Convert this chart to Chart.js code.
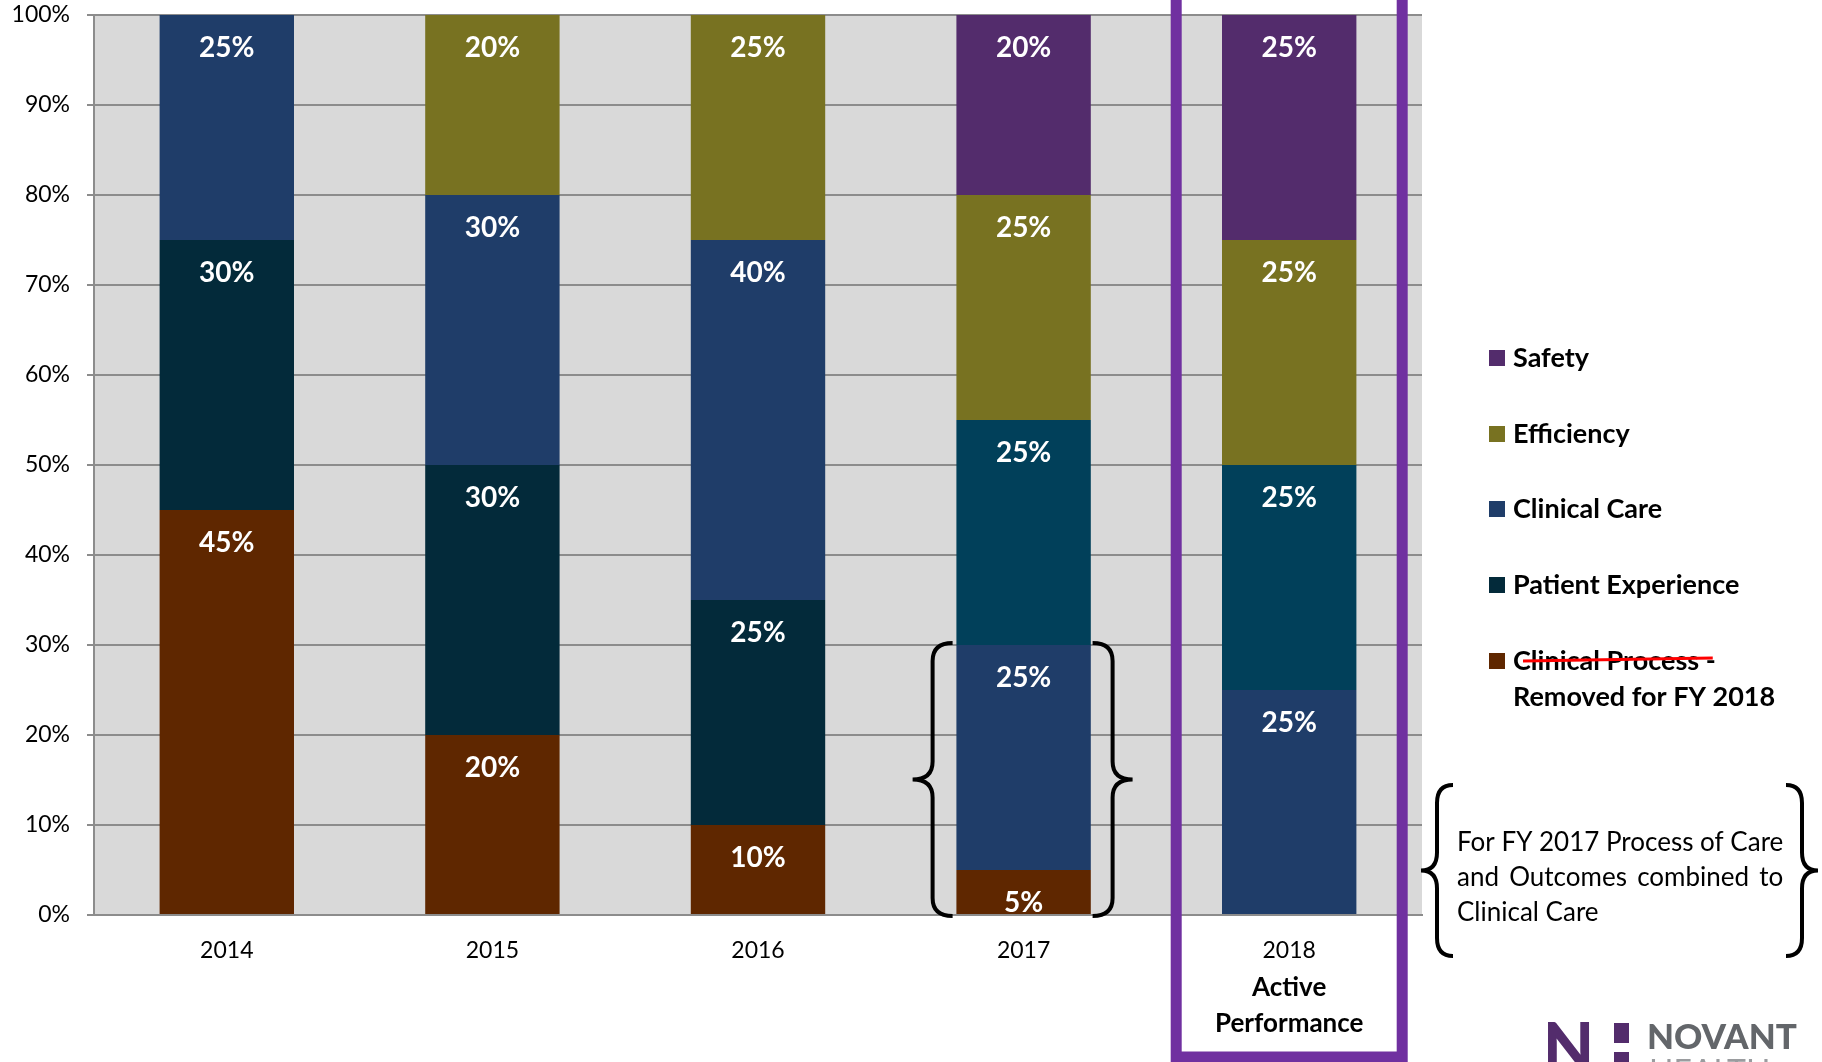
<!DOCTYPE html>
<html>
<head>
<meta charset="utf-8">
<script src="https://cdn.jsdelivr.net/npm/chart.js@4"></script>
<style>
  html, body { margin: 0; padding: 0; background: #fff; }
  #wrap { width: 1822px; height: 1062px; position: relative; }
</style>
</head>
<body>
<div id="wrap"><canvas id="weightChart" width="1822" height="1062"></canvas></div>
<script>
// weighting by year, percent of total
const years = ["2014", "2015", "2016", "2017", "2018"];
const clinicalProcess   = [45, 20, 10, 5, 0];
const patientExperience = [30, 30, 25, 25, 25];
const clinicalCare      = [25, 30, 40, 25, 25];
const efficiency        = [0, 20, 25, 25, 25];
const safety            = [0, 0, 0, 20, 25];
const yTicks = [0, 10, 20, 30, 40, 50, 60, 70, 80, 90, 100];

const legendItems = ["Safety", "Efficiency", "Clinical Care", "Patient Experience", "Clinical Process -"];

const C = {
  process: "#5f2700",
  patient: "#032a3a",
  patientNew: "#01405a",
  care: "#1f3d69",
  eff: "#787221",
  safety: "#532c6c",
  grid: "#8c8c8c",
  plot: "#d9d9d9",
  box: "#7030a0"
};
const FONT = "Lato, 'Open Sans', sans-serif";

// patient experience sat under clinical care until 2016, above it from 2017
const firstNewYear = years.indexOf("2017");
const patientOld = patientExperience.map((v, i) => i < firstNewYear ? v : 0);
const patientNew = patientExperience.map((v, i) => i >= firstNewYear ? v : 0);

function ds(label, data, color) {
  return { label, data, backgroundColor: color, borderWidth: 0, stack: "s" };
}

const plotBg = {
  id: "plotBg",
  beforeDraw(chart) {
    const { ctx, chartArea: a } = chart;
    ctx.save();
    ctx.fillStyle = C.plot;
    ctx.fillRect(a.left, a.top, a.right - a.left, a.bottom - a.top);
    ctx.restore();
  }
};

function brace(ctx, x, top, bottom, dir, w) {
  // dir = 1 opens to the right (left brace "{"), -1 for "}"
  const mid = (top + bottom) / 2;
  const r = 18;
  ctx.beginPath();
  ctx.moveTo(x + dir * w, top);
  ctx.quadraticCurveTo(x, top, x, top + r);
  ctx.lineTo(x, mid - r);
  ctx.quadraticCurveTo(x, mid, x - dir * w, mid);
  ctx.quadraticCurveTo(x, mid, x, mid + r);
  ctx.lineTo(x, bottom - r);
  ctx.quadraticCurveTo(x, bottom, x + dir * w, bottom);
  ctx.stroke();
}

const extras = {
  id: "extras",
  afterDatasetsDraw(chart) {
    const { ctx } = chart;
    const xs = chart.scales.x, ys = chart.scales.y;
    ctx.save();
    // segment labels
    ctx.fillStyle = "#fff";
    ctx.font = "bold 28px " + FONT;
    ctx.textAlign = "center";
    ctx.textBaseline = "middle";
    chart.data.datasets.forEach((d, di) => {
      chart.getDatasetMeta(di).data.forEach((el, i) => {
        if (d.data[i] > 0) ctx.fillText(d.data[i] + "%", el.x, el.y + 33);
      });
    });

    // braces round 2017 clinical process + clinical care
    const x17 = xs.getPixelForValue(3);
    ctx.strokeStyle = "#000";
    ctx.lineWidth = 4;
    const bTop = ys.getPixelForValue(clinicalProcess[3] + clinicalCare[3]);
    const bBot = ys.getPixelForValue(0);
    brace(ctx, x17 - 91, bTop - 2, bBot + 1, 1, 20);
    brace(ctx, x17 + 89, bTop - 2, bBot + 1, -1, 20);

    // purple highlight box round 2018
    const x18 = xs.getPixelForValue(4);
    ctx.strokeStyle = C.box;
    ctx.lineWidth = 11;
    ctx.beginPath();
    ctx.moveTo(x18 - 113, -10);
    ctx.lineTo(x18 - 113, 1057);
    ctx.lineTo(x18 + 113, 1057);
    ctx.lineTo(x18 + 113, -10);
    ctx.stroke();

    // extra x label lines under 2018
    ctx.fillStyle = "#000";
    ctx.font = "bold 26px " + FONT;
    ctx.fillText("Active", x18, 988);
    ctx.fillText("Performance", x18, 1024);

    // legend
    const lx = 1489;
    const ly = [358, 434, 509, 585, 661];
    const lc = [C.safety, C.eff, C.care, C.patient, C.process];
    ctx.textAlign = "left";
    ctx.font = "bold 27px " + FONT;
    legendItems.forEach((t, i) => {
      ctx.fillStyle = lc[i];
      ctx.fillRect(lx, ly[i] - 8, 16, 16);
      ctx.fillStyle = "#000";
      ctx.fillText(t, lx + 24, ly[i]);
    });
    ctx.fillText("Removed for FY 2018", lx + 24, 697);
    const sw = ctx.measureText(legendItems[4]).width;
    ctx.strokeStyle = "#ff0000";
    ctx.lineWidth = 3;
    ctx.beginPath();
    ctx.moveTo(lx + 34, 661);
    ctx.lineTo(lx + 24 + sw - 3, 658);
    ctx.stroke();

    // side note with braces
    ctx.strokeStyle = "#000";
    ctx.lineWidth = 4;
    brace(ctx, 1437, 785, 956, 1, 16);
    brace(ctx, 1802, 785, 956, -1, 16);
    ctx.font = "26px " + FONT;
    const tx = 1457;
    const line1 = "For FY 2017 Process of Care";
    const tw = ctx.measureText(line1).width;
    ctx.fillText(line1, tx, 843);
    const words = ["and", "Outcomes", "combined", "to"];
    const ww = words.reduce((s, w) => s + ctx.measureText(w).width, 0);
    const gap = (tw - ww) / (words.length - 1);
    let cx = tx;
    words.forEach(w => { ctx.fillText(w, cx, 878); cx += ctx.measureText(w).width + gap; });
    ctx.fillText("Clinical Care", tx, 913);

    // logo
    ctx.textBaseline = "alphabetic";
    ctx.fillStyle = "#532c6c";
    ctx.font = "900 66px " + FONT;
    ctx.fillText("N", 1543, 1071);
    ctx.fillRect(1614, 1023, 15, 20);
    ctx.fillRect(1614, 1052, 15, 20);
    ctx.fillStyle = "#63666a";
    ctx.font = "900 35px " + FONT;
    ctx.fillText("NOVANT", 1647, 1049);
    ctx.fillStyle = "#9a9c9f";
    ctx.font = "32px " + FONT;
    ctx.fillText("HEALTH", 1649, 1083);
    ctx.restore();
  }
};

new Chart(document.getElementById("weightChart"), {
  type: "bar",
  data: {
    labels: years,
    datasets: [
      ds("Clinical Process", clinicalProcess, C.process),
      ds("Patient Experience", patientOld, C.patient),
      ds("Clinical Care", clinicalCare, C.care),
      ds("Patient Experience ", patientNew, C.patientNew),
      ds("Efficiency", efficiency, C.eff),
      ds("Safety", safety, C.safety)
    ]
  },
  options: {
    responsive: false,
    animation: false,
    layout: { padding: { top: 15, right: 400, left: 0, bottom: 0 } },
    datasets: { bar: { categoryPercentage: 1, barPercentage: 0.506 } },
    plugins: { legend: { display: false }, tooltip: { enabled: false } },
    scales: {
      x: {
        stacked: true,
        grid: { display: false },
        border: { display: true, color: C.grid, width: 2 },
        ticks: { color: "#000", font: { family: FONT, size: 23 }, padding: 14 },
        afterFit(s) { s.height = 147; }
      },
      y: {
        stacked: true,
        min: 0, max: 100,
        afterBuildTicks(s) { s.ticks = yTicks.map(v => ({ value: v })); },
        grid: { color: C.grid, lineWidth: 2, tickLength: 7 },
        border: { display: true, color: C.grid, width: 2 },
        ticks: { color: "#000", font: { family: FONT, size: 23 }, padding: 17, callback: v => v + "%" },
        afterFit(s) { s.width = 94; s.paddingTop = 0; s.paddingBottom = 0; }
      }
    }
  },
  plugins: [plotBg, extras]
});
</script>
</body>
</html>
